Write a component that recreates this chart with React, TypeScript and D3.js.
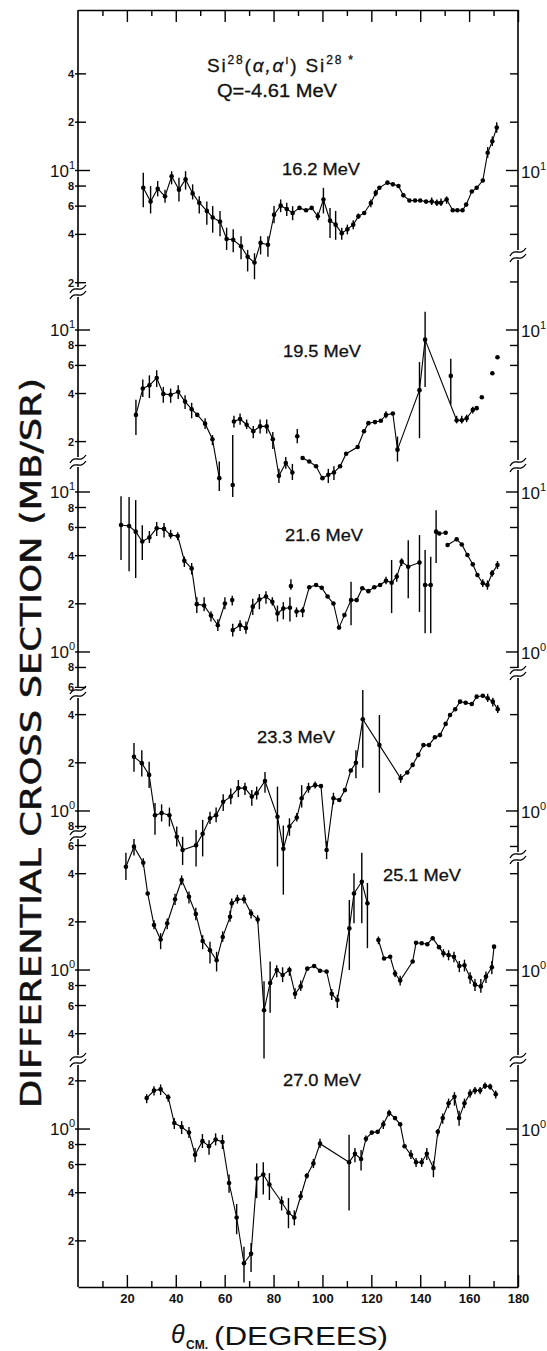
import React, { useEffect, useRef } from "react";
import * as d3 from "d3";

type Pt = [number, number, number, number] | null;

// [theta (deg), d(sigma)/d(omega) (mb/sr), error low, error high] -- 0 means no error bar
// a null entry breaks the connecting line
const e162: Pt[] = [
  [26.7, 7.8, 5.9, 9.7], [29.7, 6.4, 5.4, 8.0], [32.6, 7.7, 6.9, 8.6], [35.6, 6.9, 6.3, 7.6],
  [38.3, 9.2, 8.2, 9.9], [41.3, 7.6, 6.4, 9.0], [44.0, 8.8, 7.6, 9.9], [46.9, 7.2, 6.6, 8.2],
  [49.6, 6.3, 5.4, 6.9], [52.7, 5.6, 4.6, 6.4], [55.1, 5.1, 4.1, 6.0], [58.1, 4.8, 3.9, 5.6],
  [60.8, 3.74, 3.2, 4.4], [63.5, 3.7, 3.1, 4.3], [66.7, 3.37, 2.8, 3.9], [69.4, 2.9, 2.35, 3.2],
  [72.2, 2.67, 2.1, 3.05], [74.7, 3.54, 3.0, 3.9], [77.7, 3.45, 2.9, 3.9], [80.2, 5.3, 4.7, 6.0],
  [82.9, 6.04, 5.5, 6.6], [85.4, 5.76, 5.2, 6.3], [87.8, 5.44, 4.9, 6.0], [90.6, 5.85, 0, 0],
  [93.3, 5.65, 0, 0], [95.6, 5.85, 0, 0], [98.1, 5.18, 4.9, 5.5], [100.4, 6.6, 5.4, 7.8],
  [103.1, 4.87, 3.8, 5.85], [105.4, 4.6, 3.7, 5.6], [107.9, 4.07, 3.7, 4.4], [110.2, 4.3, 4.0, 4.6],
  [112.6, 4.6, 4.3, 4.9], [114.7, 5.18, 5.0, 5.4], [117.1, 5.44, 0, 0], [119.8, 6.27, 5.9, 6.6],
  [121.8, 7.25, 6.9, 7.6], [123.3, 7.8, 0, 0], [126.6, 8.4, 0, 0], [128.8, 8.2, 0, 0],
  [131.1, 8.0, 0, 0], [133.1, 7.0, 0, 0], [135.6, 6.5, 0, 0], [137.9, 6.5, 0, 0],
  [140.0, 6.5, 0, 0], [142.4, 6.4, 0, 0], [144.7, 6.4, 6.1, 6.8], [146.8, 6.3, 6.0, 6.6],
  [148.5, 6.3, 6.0, 6.7], [150.8, 6.6, 6.2, 6.9], [153.3, 5.65, 0, 0], [155.2, 5.65, 0, 0],
  [157.3, 5.65, 0, 0], [158.8, 6.13, 0, 0], [161.1, 7.4, 0, 0], [163.1, 7.8, 0, 0],
  [165.6, 8.66, 0, 0], [167.6, 12.9, 12.0, 14.0], [169.5, 15.2, 14.2, 16.3], [171.3, 18.5, 17.2, 20.0],
];

const e195: Pt[] = [
  [23.7, 2.94, 2.2, 3.66], [26.5, 4.3, 3.8, 4.9], [29.2, 4.5, 3.75, 5.2], [32.2, 5.0, 4.4, 5.6],
  [34.9, 3.98, 3.5, 4.4], [37.9, 3.93, 3.5, 4.3], [41.0, 4.1, 3.7, 4.5], [43.8, 3.56, 3.2, 3.9],
  [46.5, 3.19, 2.8, 3.5], [48.8, 2.94, 0, 0], [52.0, 2.59, 2.4, 2.8], [55.0, 2.07, 1.9, 2.2],
  [57.8, 1.18, 0.98, 1.5],
  null,
  [63.3, 1.07, 0.9, 2.2],
  null,
  [63.8, 2.67, 2.45, 2.9], [66.3, 2.77, 2.55, 3.0], [69.0, 2.55, 2.4, 2.75], [71.7, 2.32, 2.1, 2.5],
  [74.5, 2.49, 2.25, 2.75], [77.2, 2.49, 2.25, 2.75], [79.7, 2.07, 1.8, 2.3], [82.2, 1.22, 1.1, 1.35],
  [85.0, 1.47, 1.35, 1.6], [87.7, 1.28, 1.15, 1.45],
  null,
  [89.7, 2.16, 1.95, 2.4],
  null,
  [91.9, 1.58, 0, 0], [94.6, 1.5, 0, 0], [97.4, 1.4, 0, 0], [100.0, 1.18, 0, 0],
  [102.4, 1.24, 1.1, 1.35], [104.7, 1.28, 1.15, 1.4], [107.2, 1.4, 0, 0], [109.7, 1.68, 0, 0],
  [114.4, 1.85, 0, 0], [117.0, 2.32, 0, 0], [118.8, 2.61, 0, 0], [121.5, 2.65, 0, 0],
  [123.9, 2.7, 0, 0], [126.0, 2.94, 2.8, 3.1], [128.8, 3.0, 0, 0], [130.7, 1.78, 1.5, 2.15],
  [139.7, 4.2, 2.1, 6.3], [142.0, 8.7, 4.4, 13.0], [154.9, 2.72, 2.6, 2.9], [157.0, 2.72, 2.6, 2.9],
  [159.0, 2.8, 2.65, 2.95], [161.5, 3.16, 3.0, 3.3], [163.1, 3.24, 0, 0],
  null,
  [152.5, 5.16, 3.4, 6.6],
  null,
  [165.2, 3.79, 0, 0],
  null,
  [169.5, 5.36, 0, 0],
  null,
  [171.6, 6.75, 0, 0],
];

const e216: Pt[] = [
  [17.6, 6.22, 3.76, 9.4], [20.9, 6.13, 3.2, 9.3], [23.6, 5.65, 2.9, 8.9], [26.3, 4.9, 3.76, 6.2],
  [29.2, 5.2, 4.8, 5.7], [32.2, 5.94, 5.3, 6.5], [35.2, 5.88, 5.2, 6.4], [37.9, 5.38, 5.1, 5.8],
  [40.8, 5.3, 5.0, 5.6], [43.5, 3.72, 3.4, 3.95], [46.5, 3.33, 3.05, 3.6], [48.6, 1.99, 1.75, 2.2],
  [51.6, 1.95, 1.8, 2.2], [54.4, 1.69, 1.55, 1.8], [57.2, 1.47, 1.35, 1.6], [60.1, 2.01, 1.85, 2.2],
  null,
  [63.1, 2.11, 1.95, 2.25],
  null,
  [63.3, 1.37, 1.25, 1.5], [66.3, 1.47, 1.35, 1.58], [68.7, 1.41, 1.3, 1.55], [71.5, 1.92, 1.7, 2.15],
  [74.2, 2.13, 1.85, 2.3], [76.9, 2.22, 2.0, 2.4], [79.5, 2.06, 1.95, 2.2], [81.6, 1.74, 1.55, 1.95],
  [84.0, 1.87, 1.6, 2.05], [86.7, 1.89, 1.55, 2.2],
  null,
  [87.1, 2.58, 2.45, 2.85],
  null,
  [89.4, 1.79, 1.65, 1.9], [91.9, 1.81, 1.65, 1.9], [94.6, 2.54, 0, 0], [97.4, 2.62, 0, 0],
  [99.7, 2.52, 0, 0], [102.1, 2.22, 0, 0], [104.5, 2.01, 0, 0], [106.8, 1.42, 0, 0],
  [109.0, 1.7, 0, 0], [111.7, 2.11, 1.47, 2.75], [114.0, 2.11, 0, 0], [116.3, 2.5, 0, 0],
  [118.8, 2.4, 0, 0], [121.2, 2.54, 0, 0], [123.6, 2.62, 0, 0], [126.0, 2.79, 2.65, 2.95],
  [128.3, 2.71, 1.75, 3.76], [130.4, 2.96, 2.75, 3.1], [132.4, 3.67, 3.45, 3.85], [135.1, 3.41, 2.17, 5.0],
  [139.7, 3.62, 1.78, 5.38],
  null,
  [142.0, 2.62, 1.31, 4.34], [144.3, 2.62, 1.31, 3.94],
  null,
  [146.5, 5.65, 3.6, 7.7], [147.8, 5.5, 0, 0], [150.4, 5.56, 0, 0],
  null,
  [151.2, 4.66, 0, 0], [154.9, 5.06, 0, 0], [157.0, 4.7, 0, 0], [159.3, 4.04, 0, 0],
  [161.5, 3.53, 0, 0], [163.4, 3.03, 0, 0], [165.6, 2.69, 2.55, 2.85], [167.5, 2.62, 2.45, 2.8],
  [169.4, 3.1, 2.95, 3.25], [171.6, 3.5, 3.3, 3.7],
];

const e233: Pt[] = [
  [22.9, 2.18, 1.76, 2.66], [26.1, 1.99, 1.64, 2.4], [29.1, 1.68, 1.39, 2.03], [31.5, 0.94, 0.71, 1.12],
  [34.2, 0.97, 0.86, 1.1], [37.4, 0.94, 0.8, 1.05], [40.4, 0.69, 0.6, 0.8], [42.8, 0.57, 0.46, 0.69],
  [48.3, 0.61, 0.45, 0.76], [51.0, 0.72, 0.52, 0.88], [54.0, 0.9, 0.83, 0.99], [56.5, 0.94, 0.85, 1.05],
  [59.4, 1.14, 1.0, 1.27], [62.5, 1.23, 1.1, 1.38], [65.6, 1.39, 1.22, 1.56], [68.3, 1.39, 1.26, 1.5],
  [71.1, 1.23, 1.08, 1.35], [73.1, 1.29, 1.18, 1.42], [76.5, 1.54, 1.3, 1.75], [81.6, 0.92, 0.45, 1.42],
  [84.0, 0.58, 0.3, 0.81], [86.5, 0.8, 0.7, 0.9], [89.5, 0.91, 0.86, 0.97], [91.5, 1.2, 1.05, 1.45],
  [94.3, 1.39, 1.3, 1.5], [97.0, 1.45, 1.38, 1.53], [99.4, 1.43, 0, 0], [101.7, 0.57, 0.5, 0.65],
  [104.5, 1.2, 1.1, 1.3], [106.9, 1.17, 0, 0], [109.2, 1.35, 0, 0], [111.6, 1.79, 0, 0],
  [113.7, 2.0, 1.6, 2.4], [116.5, 3.74, 1.86, 5.7], [123.3, 2.58, 1.3, 3.98], [132.0, 1.6, 1.5, 1.7],
  [134.7, 1.74, 0, 0], [136.9, 1.94, 0, 0], [139.2, 2.24, 0, 0], [141.3, 2.58, 0, 0],
  [143.6, 2.58, 0, 0], [146.0, 2.89, 0, 0], [148.1, 2.98, 0, 0], [150.4, 3.5, 0, 0],
  [152.2, 3.98, 0, 0], [154.3, 4.32, 0, 0], [156.3, 4.82, 0, 0], [158.6, 4.75, 0, 0],
  [161.1, 4.66, 0, 0], [163.1, 5.18, 0, 0], [165.6, 5.25, 0, 0], [167.6, 5.06, 4.8, 5.4],
  [169.7, 4.82, 4.5, 5.1], [171.7, 4.32, 4.1, 4.6],
];

const e251: Pt[] = [
  [19.6, 4.42, 3.65, 5.4], [22.9, 5.9, 5.2, 6.6], [26.7, 4.68, 4.4, 5.0], [28.5, 3.01, 0, 0],
  [31.1, 1.91, 1.8, 2.05], [33.8, 1.55, 1.35, 1.7], [36.5, 1.96, 1.8, 2.1], [39.7, 2.77, 2.55, 3.0],
  [42.4, 3.65, 3.4, 3.9], [45.4, 2.87, 2.6, 3.1], [48.2, 2.24, 2.05, 2.45], [51.0, 1.52, 1.35, 1.65],
  [54.0, 1.33, 1.1, 1.5], [56.7, 1.15, 0.98, 1.3], [59.2, 1.61, 1.5, 1.75], [62.2, 2.15, 2.0, 2.35],
  [62.9, 2.61, 2.45, 2.8], [65.2, 2.77, 2.6, 2.95], [67.9, 2.77, 2.6, 2.95], [70.8, 2.26, 2.1, 2.4],
  [73.5, 2.07, 1.95, 2.2], [76.1, 0.56, 0.28, 0.85], [78.6, 0.83, 0.54, 1.13], [81.3, 1.0, 0.9, 1.07],
  [83.7, 0.93, 0.84, 1.04], [86.5, 1.0, 0.92, 1.05], [88.8, 0.71, 0.66, 0.77], [91.1, 0.79, 0.74, 0.86],
  [93.8, 1.02, 0, 0], [96.6, 1.06, 0, 0], [99.0, 0.99, 0, 0], [101.7, 0.98, 0, 0],
  [103.8, 0.71, 0.65, 0.76], [106.1, 0.65, 0.58, 0.7], [111.0, 1.82, 1.0, 2.74], [112.9, 3.01, 1.96, 4.03],
  [116.1, 3.56, 1.96, 5.4], [118.4, 2.61, 1.37, 3.5],
  null,
  [122.9, 1.54, 1.45, 1.62], [125.2, 1.18, 0, 0], [127.7, 1.21, 0, 0], [129.7, 0.95, 0.9, 1.0],
  [131.8, 0.86, 0.8, 0.92], [136.9, 1.13, 0, 0], [138.3, 1.48, 0, 0], [140.6, 1.47, 0, 0],
  [142.9, 1.45, 0, 0], [145.1, 1.58, 0, 0], [147.7, 1.39, 0, 0], [149.5, 1.27, 1.2, 1.35],
  [151.6, 1.24, 1.15, 1.33], [153.8, 1.21, 1.12, 1.3], [156.0, 1.06, 0.97, 1.14], [158.1, 1.07, 0.98, 1.16],
  [160.4, 0.9, 0.82, 0.97], [162.4, 0.81, 0.74, 0.88], [164.8, 0.79, 0.72, 0.88], [166.9, 0.91, 0.83, 0.98],
  [169.3, 1.04, 0.94, 1.14], [170.2, 1.4, 0, 0],
];

const e270: Pt[] = [
  [28.1, 1.56, 1.45, 1.65], [31.1, 1.74, 1.62, 1.85], [33.8, 1.77, 1.63, 1.9], [36.9, 1.58, 1.48, 1.65],
  [39.4, 1.09, 1.0, 1.17], [42.4, 1.03, 0.93, 1.12], [45.4, 0.95, 0.88, 1.03], [47.9, 0.69, 0.62, 0.76],
  [50.9, 0.84, 0.76, 0.93], [53.6, 0.78, 0.69, 0.85], [56.3, 0.86, 0.79, 0.94], [59.1, 0.83, 0.75, 0.92],
  [61.8, 0.46, 0.4, 0.52], [64.9, 0.28, 0.22, 0.34], [67.9, 0.145, 0.11, 0.184], [70.8, 0.166, 0.128, 0.194],
  [73.1, 0.49, 0.37, 0.61], [75.8, 0.52, 0.39, 0.62], [78.3, 0.45, 0.36, 0.53], [83.3, 0.35, 0.31, 0.38],
  [86.1, 0.3, 0.24, 0.37], [88.5, 0.28, 0.25, 0.31], [91.1, 0.38, 0.36, 0.41], [93.6, 0.51, 0.49, 0.53],
  [96.3, 0.61, 0.57, 0.65], [99.0, 0.81, 0.76, 0.87], [110.9, 0.62, 0.31, 0.92], [113.3, 0.7, 0.62, 0.76],
  [115.8, 0.65, 0.55, 0.74], [117.8, 0.87, 0.83, 0.91], [120.2, 0.95, 0, 0], [122.6, 0.96, 0, 0],
  [124.9, 1.07, 1.0, 1.13], [127.3, 1.26, 1.2, 1.32], [129.7, 1.17, 0, 0], [131.8, 1.07, 0, 0],
  [133.6, 0.78, 0, 0], [136.2, 0.69, 0.65, 0.74], [138.3, 0.62, 0.58, 0.66], [140.6, 0.62, 0.58, 0.66],
  [142.7, 0.7, 0.64, 0.76], [145.4, 0.57, 0.5, 0.63], [147.2, 0.96, 0.9, 1.0], [149.2, 1.17, 1.08, 1.25],
  [151.6, 1.45, 1.35, 1.55], [154.0, 1.59, 1.4, 1.7], [155.9, 1.17, 1.05, 1.3], [158.1, 1.45, 1.35, 1.55],
  [160.4, 1.67, 1.57, 1.77], [162.4, 1.74, 1.65, 1.83], [164.5, 1.74, 1.65, 1.83], [166.5, 1.86, 1.78, 1.95],
  [168.6, 1.84, 1.76, 1.92], [170.9, 1.65, 1.55, 1.74],
];

const series = [e162, e195, e216, e233, e251, e270];
const energies = ["16.2 MeV", "19.5 MeV", "21.6 MeV", "23.3 MeV", "25.1 MeV", "27.0 MeV"];
// value span covered by each stacked panel (log scale)
const panelDomains: [number, number][] = [
  [1.75, 100], [1.49, 17.3], [0.554, 15.4], [0.718, 5.46], [0.274, 7.08], [0.103, 2.7],
];
const panelTicks = [
  [2, 4, 6, 8, 10, 20, 40],
  [2, 4, 6, 8, 10, 20],
  [0.6, 0.8, 1, 2, 4, 6, 8, 10],
  [0.6, 0.8, 1, 2, 4],
  [0.4, 0.6, 0.8, 1, 2, 4, 6],
  [0.2, 0.4, 0.6, 0.8, 1, 2],
];
const majorAngles = [20, 40, 60, 80, 100, 120, 140, 160, 180];
const minorAngles = [10, 30, 50, 70, 90, 110, 130, 150, 170];

// layout (pixels)
const W = 547;
const H = 1351;
const X0 = 78;
const X1 = 518;
const Y0 = 10;
const Y1 = 1287;
const leftEdges = [10, 292, 462, 693, 834, 1060, 1287];
const rightEdges = [10, 255, 465, 673, 857, 1060, 1287];
const labelPos = [
  [282, 175], [283, 357], [285, 541], [257, 743], [383, 881], [283, 1086],
];

const FONT = "'Liberation Sans', Arial, sans-serif";

export default function App() {
  const ref = useRef<SVGSVGElement>(null);

  useEffect(() => {
    const svg = d3.select(ref.current);
    svg.selectAll("*").remove();

    const x = d3.scaleLinear().domain([0, 180]).range([X0, X1]);

    const g = svg.append("g");

    // frame top / bottom through d3 axes
    g.append("g")
      .attr("transform", `translate(0,${Y1})`)
      .call(d3.axisBottom(x).tickValues(majorAngles).tickSize(-12).tickSizeOuter(0).tickPadding(7).tickFormat(d3.format("d")))
      .call((s) => s.select(".domain").attr("stroke-width", 1.6))
      .call((s) => s.selectAll(".tick line").attr("stroke-width", 1.4))
      .call((s) => s.selectAll("text").attr("font-family", FONT).attr("font-size", 13).attr("font-weight", "bold").attr("fill", "#111"));
    g.append("g")
      .attr("transform", `translate(0,${Y1})`)
      .call(d3.axisBottom(x).tickValues(minorAngles).tickSize(-6).tickSizeOuter(0).tickFormat(() => ""))
      .call((s) => s.select(".domain").remove())
      .call((s) => s.selectAll(".tick line").attr("stroke-width", 1.4));
    g.append("g")
      .attr("transform", `translate(0,${Y0})`)
      .call(d3.axisTop(x).tickValues(majorAngles).tickSize(-12).tickSizeOuter(0).tickFormat(() => ""))
      .call((s) => s.select(".domain").attr("stroke-width", 1.6))
      .call((s) => s.selectAll(".tick line").attr("stroke-width", 1.4));
    g.append("g")
      .attr("transform", `translate(0,${Y0})`)
      .call(d3.axisTop(x).tickValues(minorAngles).tickSize(-6).tickSizeOuter(0).tickFormat(() => ""))
      .call((s) => s.select(".domain").remove())
      .call((s) => s.selectAll(".tick line").attr("stroke-width", 1.4));

    // side axes
    g.append("line").attr("x1", X0).attr("x2", X0).attr("y1", Y0).attr("y2", Y1).attr("stroke", "#000").attr("stroke-width", 1.6);
    g.append("line").attr("x1", X1).attr("x2", X1).attr("y1", Y0).attr("y2", Y1).attr("stroke", "#000").attr("stroke-width", 1.6);

    const supDigit = (e: number) => (e === 1 ? "1" : e === 2 ? "2" : "0");

    series.forEach((data, i) => {
      const [lo, hi] = panelDomains[i];
      const y = d3.scaleLog().domain([lo, hi]).range([leftEdges[i + 1], leftEdges[i]]);
      const pg = g.append("g");

      // ticks on both sides
      panelTicks[i].forEach((v) => {
        const yy = y(v);
        const isDecade = Math.abs(Math.log10(v) - Math.round(Math.log10(v))) < 1e-6;
        const len = isDecade ? 12 : 8;
        if (yy > leftEdges[i] + 2 && yy < leftEdges[i + 1] - 2) {
          pg.append("line").attr("x1", X0 - 3).attr("x2", X0 + len).attr("y1", yy).attr("y2", yy).attr("stroke", "#000").attr("stroke-width", 1.4);
          if (isDecade) {
            const t = pg.append("text").attr("x", X0 - 3).attr("y", yy + 6).attr("text-anchor", "end")
              .attr("font-family", FONT).attr("font-size", 17).attr("fill", "#111");
            t.append("tspan").text("10");
            t.append("tspan").attr("dy", -8).attr("font-size", 11).text(supDigit(Math.round(Math.log10(v))));
          } else {
            const lead = String(Math.round(v / Math.pow(10, Math.floor(Math.log10(v) + 1e-9))));
            pg.append("text").attr("x", X0 - 4).attr("y", yy + 4).attr("text-anchor", "end")
              .attr("font-family", FONT).attr("font-size", 11).attr("font-weight", "bold").attr("fill", "#111").text(lead);
          }
        }
        if (yy > rightEdges[i] + 2 && yy < rightEdges[i + 1] - 2) {
          pg.append("line").attr("x1", X1 - len).attr("x2", X1).attr("y1", yy).attr("y2", yy).attr("stroke", "#000").attr("stroke-width", 1.4);
          if (isDecade) {
            const t = pg.append("text").attr("x", X1 + 3).attr("y", yy + 7)
              .attr("font-family", FONT).attr("font-size", 17).attr("fill", "#111");
            t.append("tspan").text("10");
            t.append("tspan").attr("dy", -8).attr("font-size", 11).text(supDigit(Math.round(Math.log10(v))));
          }
        }
      });

      // connecting line
      const line = d3.line<Pt>()
        .defined((d) => d !== null)
        .x((d) => x(d![0]))
        .y((d) => y(d![1]));
      pg.append("path").datum(data).attr("d", line).attr("fill", "none").attr("stroke", "#000").attr("stroke-width", 1.1);

      const pts = data.filter((d) => d !== null) as [number, number, number, number][];
      // error bars
      pg.selectAll("line.err")
        .data(pts.filter((d) => d[2] > 0))
        .enter()
        .append("line")
        .attr("class", "err")
        .attr("x1", (d) => x(d[0]))
        .attr("x2", (d) => x(d[0]))
        .attr("y1", (d) => y(d[2]))
        .attr("y2", (d) => y(d[3]))
        .attr("stroke", "#000")
        .attr("stroke-width", 1.4);
      // markers
      pg.selectAll("circle")
        .data(pts)
        .enter()
        .append("circle")
        .attr("cx", (d) => x(d[0]))
        .attr("cy", (d) => y(d[1]))
        .attr("r", 2.3)
        .attr("fill", "#000");

      // energy label
      pg.append("text")
        .attr("x", labelPos[i][0])
        .attr("y", labelPos[i][1])
        .attr("font-family", FONT)
        .attr("font-size", 17)
        .attr("textLength", 78)
        .attr("lengthAdjust", "spacingAndGlyphs")
        .attr("stroke", "#111")
        .attr("stroke-width", 0.3)
        .attr("fill", "#111")
        .text(energies[i]);
    });

    // axis breaks
    const breakMark = (cx: number, cy: number) => {
      g.append("rect").attr("x", cx - 3).attr("y", cy - 5).attr("width", 6).attr("height", 10).attr("fill", "#fff");
      [-3, 3].forEach((dy) => {
        const b = cy + dy;
        g.append("path")
          .attr("d", `M${cx - 8},${b + 4} C${cx - 3},${b - 5} ${cx + 2},${b + 5} ${cx + 8},${b - 4}`)
          .attr("fill", "none")
          .attr("stroke", "#000")
          .attr("stroke-width", 1.3);
      });
    };
    leftEdges.slice(1, -1).forEach((b) => breakMark(X0, b));
    rightEdges.slice(1, -1).forEach((b) => breakMark(X1, b));

    // reaction title
    const t1 = g.append("text").attr("x", 207).attr("y", 72)
      .attr("font-family", FONT).attr("font-size", 19).attr("fill", "#111")
      .attr("stroke", "#111").attr("stroke-width", 0.3)
      .attr("textLength", 146).attr("lengthAdjust", "spacing");
    t1.append("tspan").text("Si");
    t1.append("tspan").attr("dy", -8).attr("font-size", 12).text("28");
    t1.append("tspan").attr("dy", 8).text("(");
    t1.append("tspan").attr("font-style", "italic").text("α,α");
    t1.append("tspan").attr("dy", -8).attr("font-size", 12).text("ı");
    t1.append("tspan").attr("dy", 8).text(") Si");
    t1.append("tspan").attr("dy", -8).attr("font-size", 12).text("28 *");
    g.append("text").attr("x", 217).attr("y", 97)
      .attr("font-family", FONT).attr("font-size", 18).attr("fill", "#111")
      .attr("stroke", "#111").attr("stroke-width", 0.3)
      .attr("textLength", 120).attr("lengthAdjust", "spacingAndGlyphs").text("Q=-4.61 MeV");

    // axis titles
    const xt = g.append("g").attr("font-family", FONT).attr("fill", "#111");
    xt.append("text").attr("x", 171).attr("y", 1343).attr("font-size", 25).attr("font-style", "italic").text("θ");
    xt.append("text").attr("x", 186).attr("y", 1349).attr("font-size", 12).attr("font-weight", "bold").text("CM.");
    xt.append("text").attr("x", 214).attr("y", 1345).attr("font-size", 25)
      .attr("textLength", 174).attr("lengthAdjust", "spacingAndGlyphs").text("(DEGREES)");

    g.append("text")
      .attr("transform", `translate(41,1108) rotate(-90)`)
      .attr("font-family", "'DejaVu Sans Condensed', 'Liberation Sans Narrow', sans-serif")
      .attr("font-size", 28)
      .attr("stroke", "#111")
      .attr("stroke-width", 0.5)
      .attr("textLength", 730)
      .attr("lengthAdjust", "spacingAndGlyphs")
      .attr("fill", "#111")
      .text("DIFFERENTIAL  CROSS  SECTION  (MB/SR)");
  }, []);

  return (
    <svg
      ref={ref}
      width={W}
      height={H}
      style={{ position: "absolute", left: 0, top: 0, background: "#fff" }}
    />
  );
}
